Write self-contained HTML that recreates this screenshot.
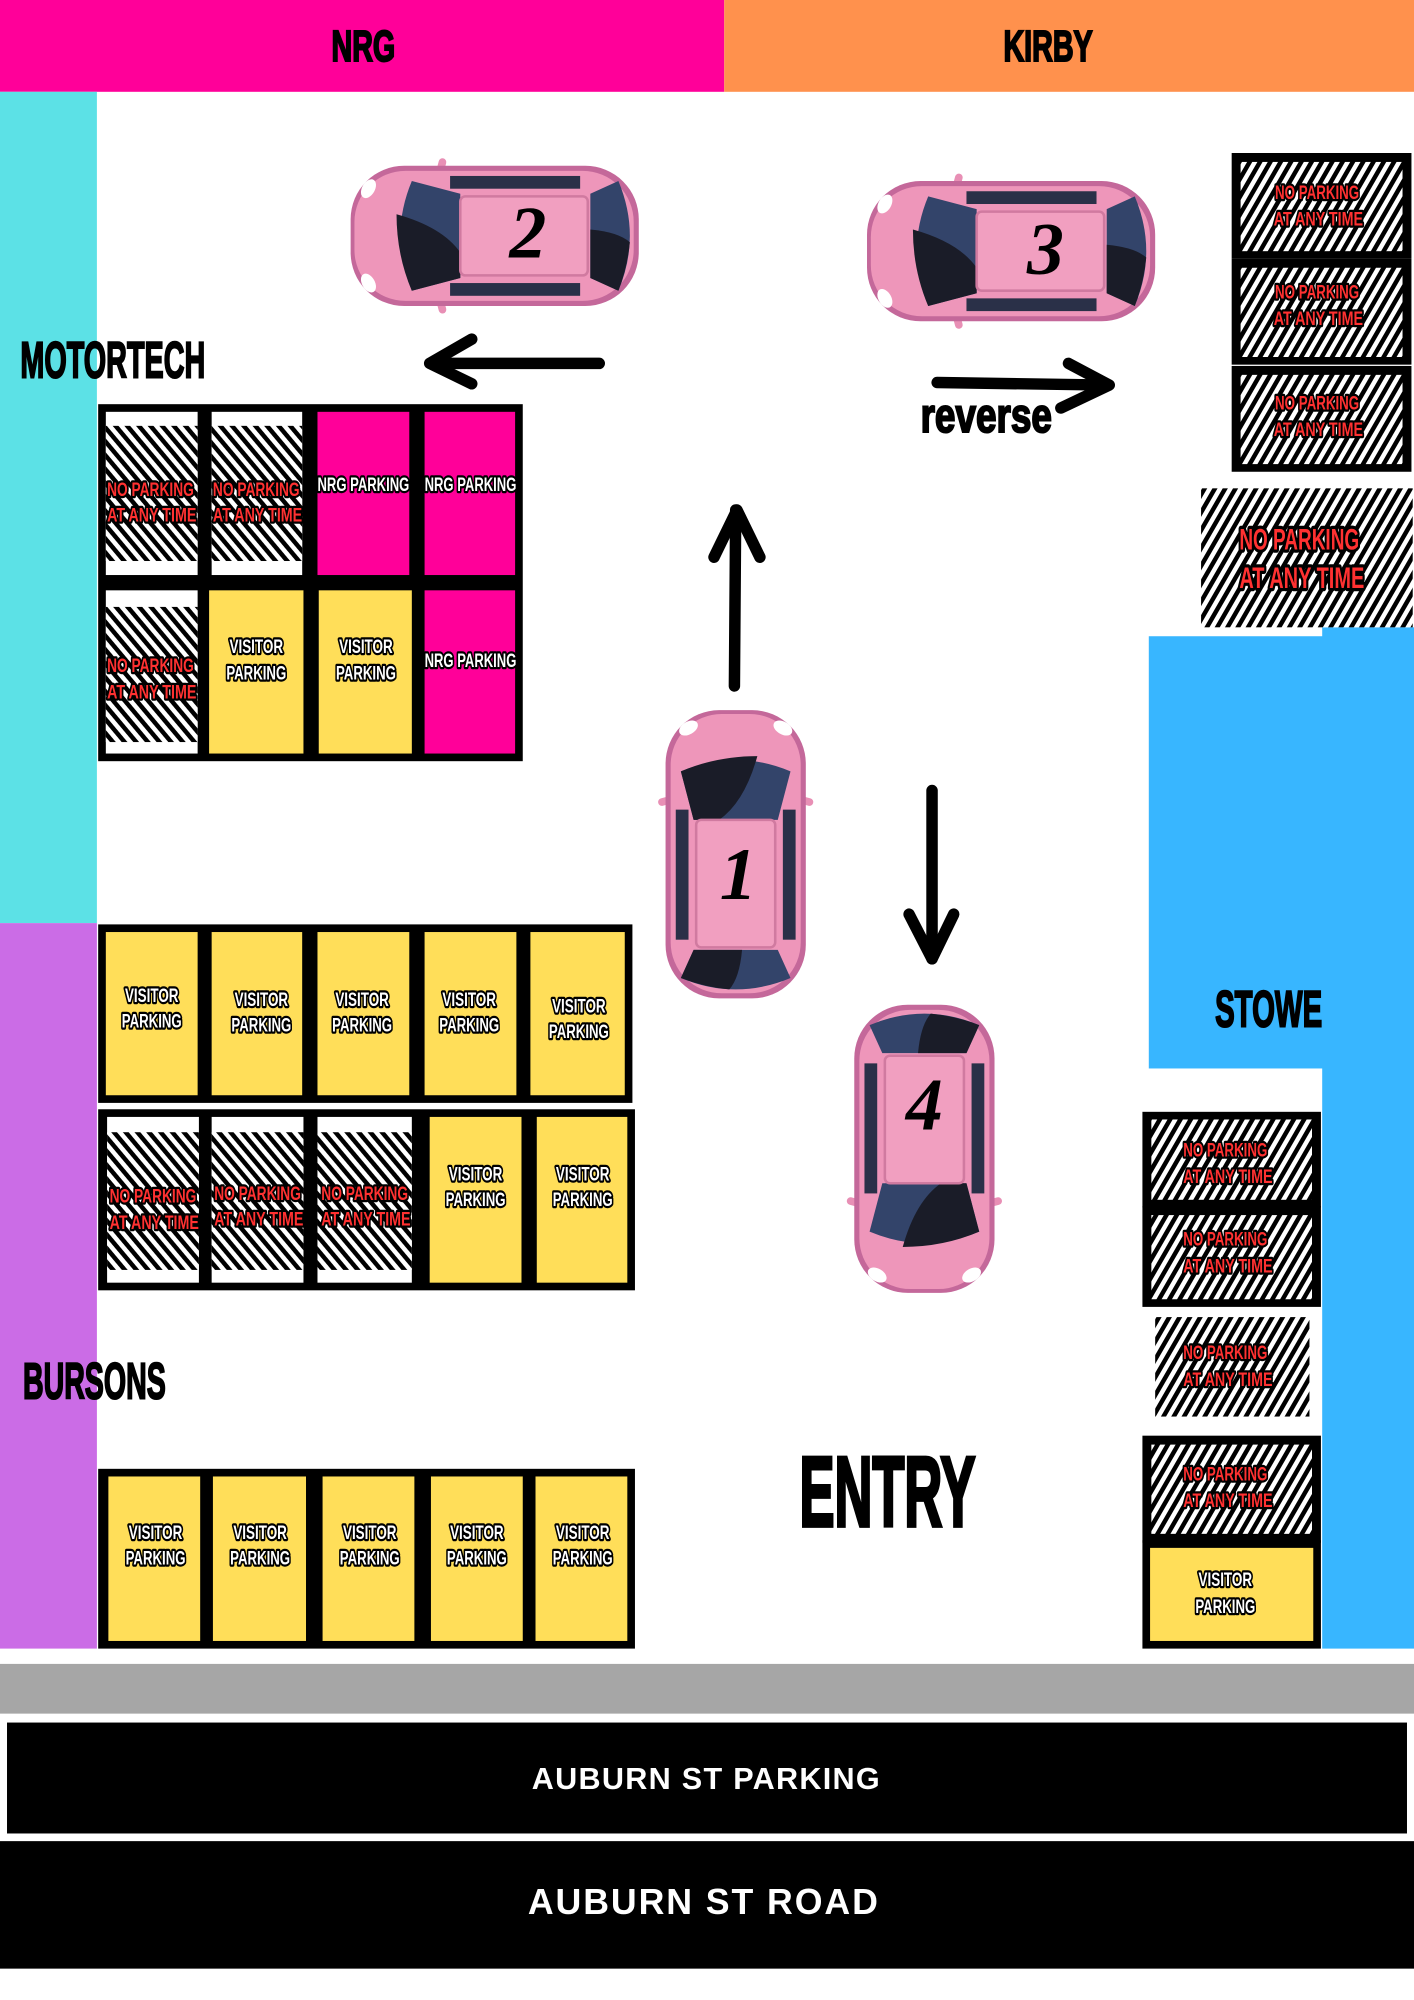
<!DOCTYPE html>
<html><head><meta charset="utf-8"><style>html,body{margin:0;padding:0;background:#fff}svg{display:block}</style></head><body>
<svg width="1414" height="2000" viewBox="0 0 1109 1568.6" xmlns="http://www.w3.org/2000/svg" font-family="Liberation Sans, sans-serif">
<defs>
<pattern id="hb" width="7" height="7" patternUnits="userSpaceOnUse" patternTransform="rotate(-40)"><rect width="7" height="7" fill="#fff"/><rect width="3.5" height="7" fill="#000"/></pattern>
<pattern id="hf" width="7" height="7" patternUnits="userSpaceOnUse" patternTransform="rotate(30)"><rect width="7" height="7" fill="#fff"/><rect width="3.5" height="7" fill="#000"/></pattern>
<g id="car">
<rect x="-6" y="68" width="14" height="6" rx="3" fill="#e88fb5" transform="rotate(-15 1 71)"/>
<rect x="102" y="68" width="14" height="6" rx="3" fill="#e88fb5" transform="rotate(15 109 71)"/>
<rect x="0" y="0" width="110" height="226" rx="42" fill="#c4689a"/>
<rect x="4" y="3" width="102" height="219" rx="40" fill="#ee96ba"/>
<ellipse cx="18" cy="14" rx="8" ry="5" fill="#fff" transform="rotate(-30 18 14)"/>
<ellipse cx="92" cy="14" rx="8" ry="5" fill="#fff" transform="rotate(30 92 14)"/>
<rect x="8" y="78" width="10" height="102" fill="#2a3048"/>
<rect x="92" y="78" width="10" height="102" fill="#2a3048"/>
<path d="M12,48 Q55,30 98,48 L88,86 L22,86 Z" fill="#33446a"/>
<path d="M12,48 Q40,36 72,36 Q62,72 42,86 L22,86 Z" fill="#1a1c28"/>
<rect x="24" y="86" width="62" height="100" rx="4" fill="#f19fc0" stroke="#d07aa0" stroke-width="2"/>
<path d="M22,188 L88,188 L98,210 Q55,228 12,210 Z" fill="#33446a"/>
<path d="M22,188 L60,188 Q58,210 50,219 Q30,217 12,210 Z" fill="#1a1c28"/>
</g>
<g id="np"><rect width="141" height="83" fill="#000"/><rect x="7" y="7" width="127" height="70" fill="url(#hf)"/></g>
</defs>
<g font-weight="bold" stroke="#000" stroke-width="1.6">
<rect x="0" y="0" width="568" height="72" fill="#ff0099" stroke="none"/>
<rect x="568" y="0" width="541" height="72" fill="#ff914d" stroke="none"/>
<text x="285" y="48" font-size="34" text-anchor="middle" textLength="50" lengthAdjust="spacingAndGlyphs">NRG</text>
<text x="822" y="48" font-size="34" text-anchor="middle" textLength="70" lengthAdjust="spacingAndGlyphs">KIRBY</text>
<rect x="0" y="72" width="76" height="652" fill="#5ce1e6" stroke="none"/>
<rect x="0" y="724" width="76" height="569" fill="#cb6ce6" stroke="none"/>
<rect x="901" y="499" width="208" height="339" fill="#38b6ff" stroke="none"/>
<rect x="1037" y="492" width="72" height="801" fill="#38b6ff" stroke="none"/>
<rect x="0" y="1305" width="1109" height="39" fill="#a6a6a6" stroke="none"/>
<rect x="5.5" y="1351" width="1098" height="87" fill="#000" stroke="none"/>
<rect x="0" y="1444" width="1109" height="100" fill="#000" stroke="none"/>
<text x="554" y="1403" fill="#fff" stroke="none" font-size="24" text-anchor="middle" letter-spacing="1">AUBURN ST PARKING</text>
<text x="552" y="1501" fill="#fff" stroke="none" font-size="28" text-anchor="middle" letter-spacing="1.5">AUBURN ST ROAD</text>
<text x="16" y="296" font-size="40" textLength="145" lengthAdjust="spacingAndGlyphs">MOTORTECH</text>
<text x="18" y="1097" font-size="40" textLength="112" lengthAdjust="spacingAndGlyphs">BURSONS</text>
<text x="953" y="805" font-size="40" textLength="84" lengthAdjust="spacingAndGlyphs">STOWE</text>
<text x="627" y="1197" font-size="78" stroke-width="3" textLength="138" lengthAdjust="spacingAndGlyphs">ENTRY</text>
<text x="722" y="339" font-size="38" textLength="103" lengthAdjust="spacingAndGlyphs">reverse</text>
</g>

<g font-weight="bold" font-size="15" stroke="#000" stroke-width="3.5" paint-order="stroke" stroke-linejoin="round" text-anchor="middle">
<rect x="77" y="317" width="333" height="280" fill="#000" stroke="none"/>
<rect x="83" y="323" width="72" height="128" fill="#fff" stroke="none"/><rect x="83" y="334" width="72" height="106" fill="url(#hb)" stroke="none"/>
<rect x="166" y="323" width="71" height="128" fill="#fff" stroke="none"/><rect x="166" y="334" width="71" height="106" fill="url(#hb)" stroke="none"/>
<rect x="249" y="323" width="72" height="128" fill="#ff0099" stroke="none"/>
<rect x="333" y="323" width="71" height="128" fill="#ff0099" stroke="none"/>
<rect x="83" y="463" width="72" height="128" fill="#fff" stroke="none"/><rect x="83" y="476" width="72" height="106" fill="url(#hb)" stroke="none"/>
<rect x="164" y="463" width="74" height="128" fill="#ffde59" stroke="none"/>
<rect x="250" y="463" width="73" height="128" fill="#ffde59" stroke="none"/>
<rect x="333" y="463" width="71" height="128" fill="#ff0099" stroke="none"/>
<g fill="#ff3131">
<text x="118" y="389" textLength="68" lengthAdjust="spacingAndGlyphs">NO PARKING</text><text x="119" y="409" textLength="70" lengthAdjust="spacingAndGlyphs">AT ANY TIME</text>
<text x="201" y="389" textLength="68" lengthAdjust="spacingAndGlyphs">NO PARKING</text><text x="202" y="409" textLength="70" lengthAdjust="spacingAndGlyphs">AT ANY TIME</text>
<text x="118" y="527" textLength="68" lengthAdjust="spacingAndGlyphs">NO PARKING</text><text x="119" y="548" textLength="70" lengthAdjust="spacingAndGlyphs">AT ANY TIME</text>
</g>
<g fill="#fff">
<text x="285" y="385" textLength="72" lengthAdjust="spacingAndGlyphs">NRG PARKING</text>
<text x="369" y="385" textLength="72" lengthAdjust="spacingAndGlyphs">NRG PARKING</text>
<text x="369" y="523" textLength="72" lengthAdjust="spacingAndGlyphs">NRG PARKING</text>
<text x="201" y="512" textLength="42" lengthAdjust="spacingAndGlyphs">VISITOR</text><text x="201" y="533" textLength="47" lengthAdjust="spacingAndGlyphs">PARKING</text>
<text x="287" y="512" textLength="42" lengthAdjust="spacingAndGlyphs">VISITOR</text><text x="287" y="533" textLength="47" lengthAdjust="spacingAndGlyphs">PARKING</text>
</g>

<rect x="77" y="725" width="419" height="140" fill="#000" stroke="none"/>
<rect x="77" y="870" width="421" height="142" fill="#000" stroke="none"/>
<g stroke="none" fill="#ffde59">
<rect x="83" y="731" width="72" height="128"/><rect x="166" y="731" width="71" height="128"/><rect x="249" y="731" width="72" height="128"/><rect x="333" y="731" width="72" height="128"/><rect x="416" y="731" width="74" height="128"/>
<rect x="337" y="876" width="72" height="130"/><rect x="421" y="876" width="71" height="130"/>
<rect x="84" y="876" width="72" height="130" fill="#fff"/><rect x="84" y="888" width="72" height="108" fill="url(#hb)"/>
<rect x="166" y="876" width="72" height="130" fill="#fff"/><rect x="166" y="888" width="72" height="108" fill="url(#hb)"/>
<rect x="249" y="876" width="74" height="130" fill="#fff"/><rect x="249" y="888" width="74" height="108" fill="url(#hb)"/>
</g>
<g fill="#fff">
<text x="119" y="786" textLength="42" lengthAdjust="spacingAndGlyphs">VISITOR</text><text x="119" y="806" textLength="47" lengthAdjust="spacingAndGlyphs">PARKING</text>
<text x="205" y="789" textLength="42" lengthAdjust="spacingAndGlyphs">VISITOR</text><text x="205" y="809" textLength="47" lengthAdjust="spacingAndGlyphs">PARKING</text>
<text x="284" y="789" textLength="42" lengthAdjust="spacingAndGlyphs">VISITOR</text><text x="284" y="809" textLength="47" lengthAdjust="spacingAndGlyphs">PARKING</text>
<text x="368" y="789" textLength="42" lengthAdjust="spacingAndGlyphs">VISITOR</text><text x="368" y="809" textLength="47" lengthAdjust="spacingAndGlyphs">PARKING</text>
<text x="454" y="794" textLength="42" lengthAdjust="spacingAndGlyphs">VISITOR</text><text x="454" y="814" textLength="47" lengthAdjust="spacingAndGlyphs">PARKING</text>
<text x="373" y="926" textLength="42" lengthAdjust="spacingAndGlyphs">VISITOR</text><text x="373" y="946" textLength="47" lengthAdjust="spacingAndGlyphs">PARKING</text>
<text x="457" y="926" textLength="42" lengthAdjust="spacingAndGlyphs">VISITOR</text><text x="457" y="946" textLength="47" lengthAdjust="spacingAndGlyphs">PARKING</text>
</g>
<g fill="#ff3131">
<text x="120" y="943" textLength="68" lengthAdjust="spacingAndGlyphs">NO PARKING</text><text x="121" y="964" textLength="70" lengthAdjust="spacingAndGlyphs">AT ANY TIME</text>
<text x="202" y="941" textLength="68" lengthAdjust="spacingAndGlyphs">NO PARKING</text><text x="203" y="961" textLength="70" lengthAdjust="spacingAndGlyphs">AT ANY TIME</text>
<text x="286" y="941" textLength="68" lengthAdjust="spacingAndGlyphs">NO PARKING</text><text x="287" y="961" textLength="70" lengthAdjust="spacingAndGlyphs">AT ANY TIME</text>
</g>

<rect x="77" y="1152" width="421" height="141" fill="#000" stroke="none"/>
<g stroke="none" fill="#ffde59">
<rect x="85" y="1158" width="72" height="129"/><rect x="167" y="1158" width="73" height="129"/><rect x="253" y="1158" width="72" height="129"/><rect x="338" y="1158" width="72" height="129"/><rect x="420" y="1158" width="72" height="129"/>
</g>
<g fill="#fff">
<text x="122" y="1207" textLength="42" lengthAdjust="spacingAndGlyphs">VISITOR</text><text x="122" y="1227" textLength="47" lengthAdjust="spacingAndGlyphs">PARKING</text>
<text x="204" y="1207" textLength="42" lengthAdjust="spacingAndGlyphs">VISITOR</text><text x="204" y="1227" textLength="47" lengthAdjust="spacingAndGlyphs">PARKING</text>
<text x="290" y="1207" textLength="42" lengthAdjust="spacingAndGlyphs">VISITOR</text><text x="290" y="1227" textLength="47" lengthAdjust="spacingAndGlyphs">PARKING</text>
<text x="374" y="1207" textLength="42" lengthAdjust="spacingAndGlyphs">VISITOR</text><text x="374" y="1227" textLength="47" lengthAdjust="spacingAndGlyphs">PARKING</text>
<text x="457" y="1207" textLength="42" lengthAdjust="spacingAndGlyphs">VISITOR</text><text x="457" y="1227" textLength="47" lengthAdjust="spacingAndGlyphs">PARKING</text>
</g>

<use href="#np" x="966" y="120" stroke="none"/>
<use href="#np" x="966" y="203" stroke="none"/>
<use href="#np" x="966" y="287" stroke="none"/>
<rect x="942" y="383" width="166" height="109" fill="url(#hf)" stroke="none"/>
<g fill="#ff3131">
<text x="1033" y="156" textLength="66" lengthAdjust="spacingAndGlyphs">NO PARKING</text><text x="1034" y="177" textLength="70" lengthAdjust="spacingAndGlyphs">AT ANY TIME</text>
<text x="1033" y="234" textLength="66" lengthAdjust="spacingAndGlyphs">NO PARKING</text><text x="1034" y="255" textLength="70" lengthAdjust="spacingAndGlyphs">AT ANY TIME</text>
<text x="1033" y="321" textLength="66" lengthAdjust="spacingAndGlyphs">NO PARKING</text><text x="1034" y="342" textLength="70" lengthAdjust="spacingAndGlyphs">AT ANY TIME</text>
<text x="1019" y="431" font-size="23" stroke-width="5" textLength="94" lengthAdjust="spacingAndGlyphs">NO PARKING</text><text x="1021" y="461" font-size="23" stroke-width="5" textLength="98" lengthAdjust="spacingAndGlyphs">AT ANY TIME</text>
</g>

<rect x="896" y="872" width="140" height="75" fill="#000" stroke="none"/><rect x="903" y="878" width="126" height="63" fill="url(#hf)" stroke="none"/>
<rect x="896" y="946" width="140" height="79" fill="#000" stroke="none"/><rect x="903" y="953" width="126" height="66" fill="url(#hf)" stroke="none"/>
<rect x="906" y="1033" width="121" height="78" fill="url(#hf)" stroke="none"/>
<rect x="896" y="1126" width="140" height="84" fill="#000" stroke="none"/><rect x="903" y="1133" width="126" height="70" fill="url(#hf)" stroke="none"/>
<rect x="896" y="1208" width="140" height="85" fill="#000" stroke="none"/><rect x="902" y="1214" width="128" height="73" fill="#ffde59" stroke="none"/>
<g fill="#ff3131">
<text x="961" y="907" textLength="66" lengthAdjust="spacingAndGlyphs">NO PARKING</text><text x="963" y="928" textLength="70" lengthAdjust="spacingAndGlyphs">AT ANY TIME</text>
<text x="961" y="977" textLength="66" lengthAdjust="spacingAndGlyphs">NO PARKING</text><text x="963" y="998" textLength="70" lengthAdjust="spacingAndGlyphs">AT ANY TIME</text>
<text x="961" y="1066" textLength="66" lengthAdjust="spacingAndGlyphs">NO PARKING</text><text x="963" y="1087" textLength="70" lengthAdjust="spacingAndGlyphs">AT ANY TIME</text>
<text x="961" y="1161" textLength="66" lengthAdjust="spacingAndGlyphs">NO PARKING</text><text x="963" y="1182" textLength="70" lengthAdjust="spacingAndGlyphs">AT ANY TIME</text>
</g>
<g fill="#fff">
<text x="961" y="1244" textLength="42" lengthAdjust="spacingAndGlyphs">VISITOR</text><text x="961" y="1265" textLength="47" lengthAdjust="spacingAndGlyphs">PARKING</text>
</g>
</g>

<g fill="none" stroke="#000" stroke-width="9" stroke-linecap="round" stroke-linejoin="round">
<path d="M470,285 L340,285"/><path d="M370,266 L337,285 L370,301"/>
<path d="M735,300 L868,302"/><path d="M838,285 L870,302 L832,320"/>
<path d="M576,538 L577,400"/><path d="M560,437 L578,400 L596,437"/>
<path d="M731,620 L731,752"/><path d="M713,717 L731,752 L748,717"/>
</g>

<use href="#car" transform="translate(388,185) rotate(-90) translate(-55,-113)"/>
<use href="#car" transform="translate(793,197) rotate(-90) translate(-55,-113)"/>
<use href="#car" transform="translate(522,557)"/>
<use href="#car" transform="translate(725,901) rotate(180) translate(-55,-113)"/>
<g font-family="Liberation Serif, serif" font-style="italic" font-weight="bold" font-size="58" text-anchor="middle" fill="#000">
<text x="414" y="202">2</text>
<text x="820" y="215">3</text>
<text x="579" y="705">1</text>
<text x="725" y="886">4</text>
</g>
</svg>
</body></html>
